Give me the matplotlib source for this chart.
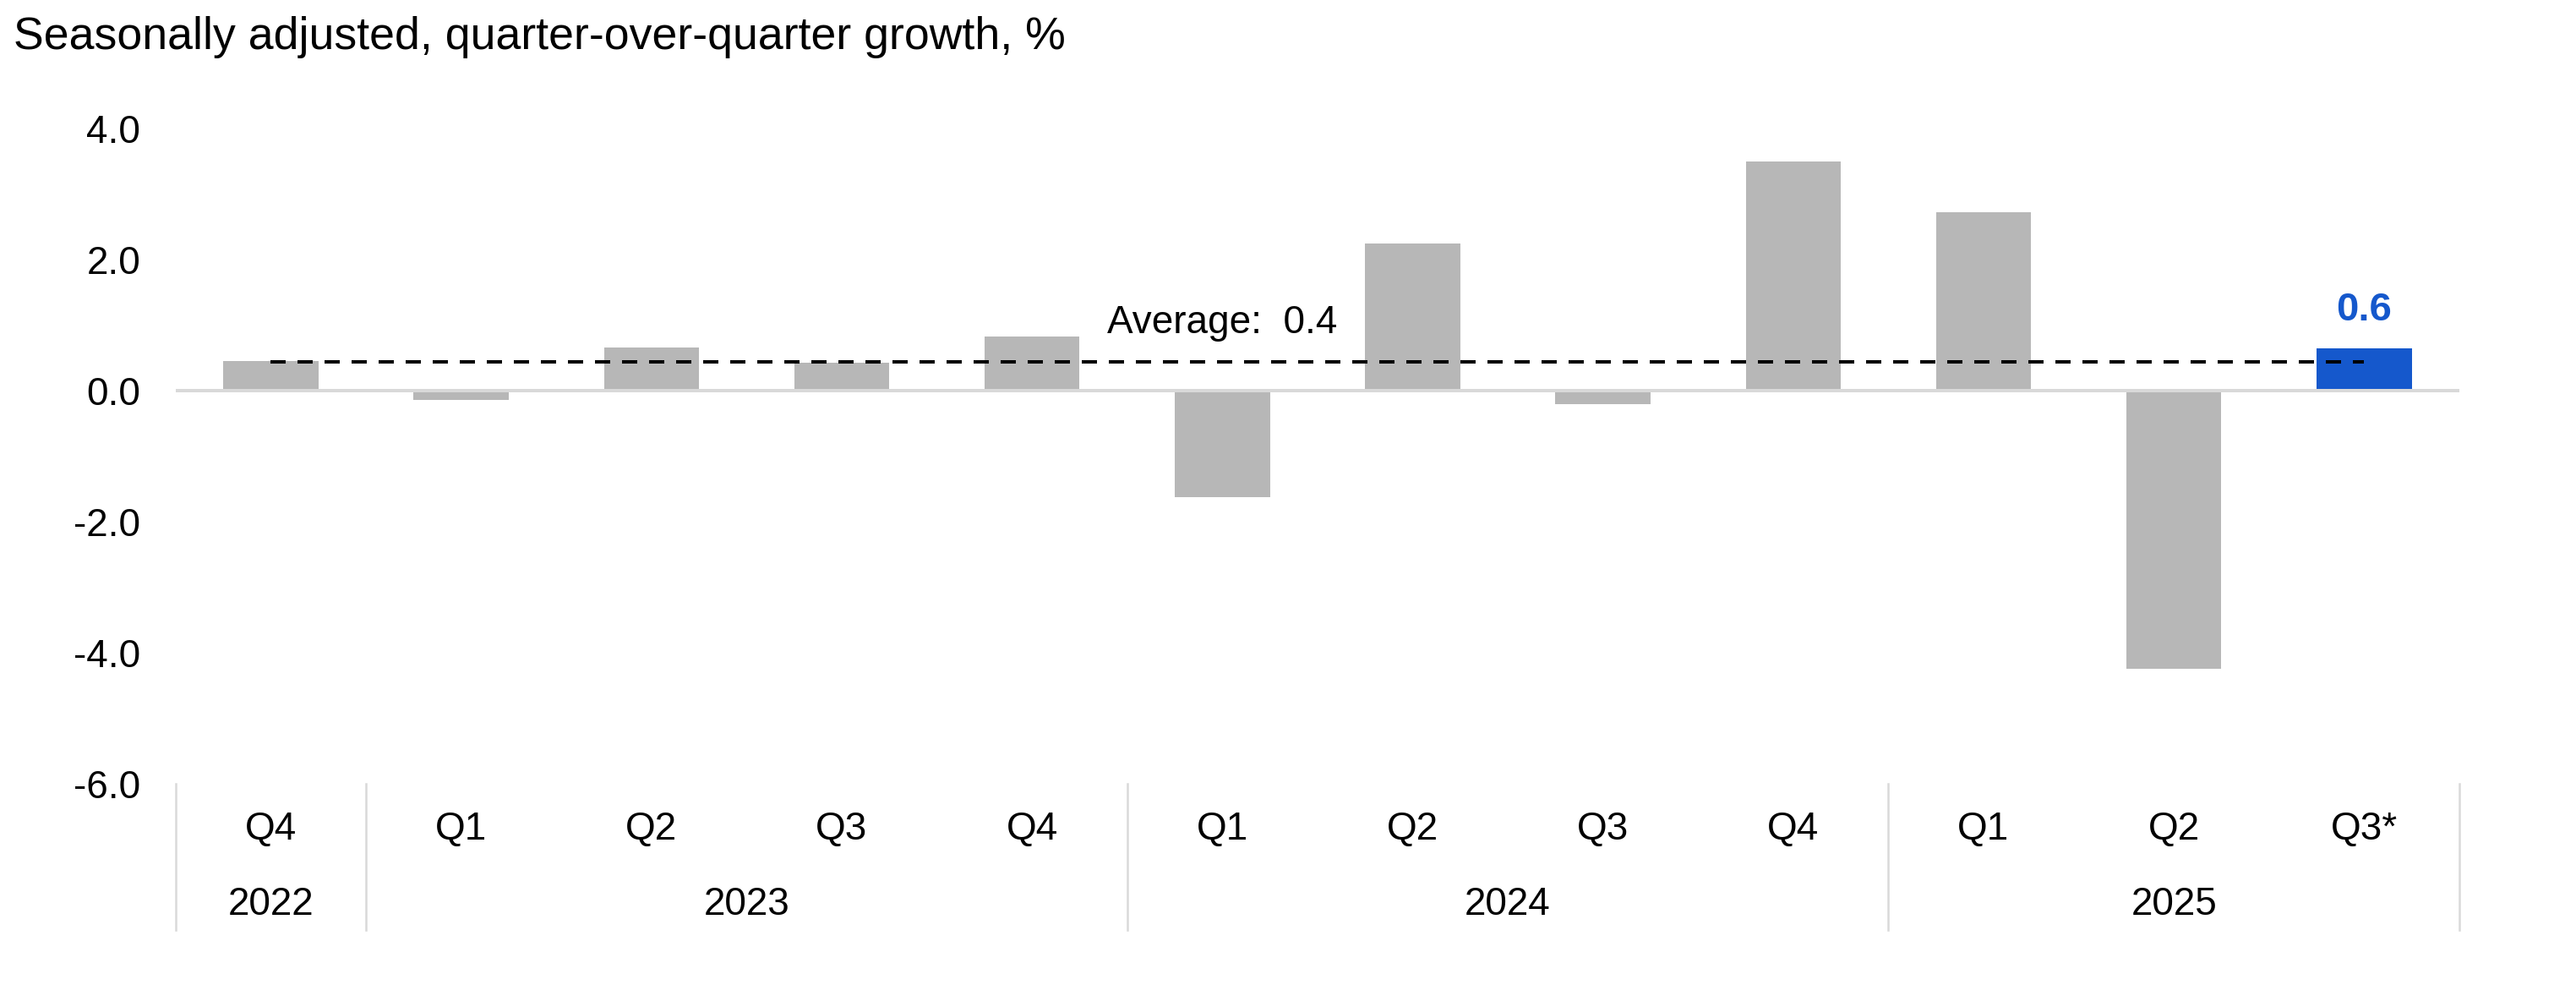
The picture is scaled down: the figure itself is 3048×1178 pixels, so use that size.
import matplotlib
matplotlib.use("Agg")
from matplotlib import pyplot as plt

# data
quarters = ["Q4", "Q1", "Q2", "Q3", "Q4", "Q1", "Q2", "Q3", "Q4", "Q1", "Q2", "Q3*"]
growth = [0.45, -0.14, 0.66, 0.43, 0.83, -1.62, 2.25, -0.21, 3.50, 2.72, -4.25, 0.64]
years = ["2022", "2023", "2024", "2025"]
quarters_per_year = [1, 4, 4, 3]
average = 0.44
average_label = "Average:  0.4"
latest_label = "0.6"

GREY = "#B7B7B7"
BLUE = "#1558CC"
LINE = "#D9D9D9"
FS = 16.5

plt.rcParams["font.family"] = ["Liberation Sans", "DejaVu Sans"]

fig = plt.figure(figsize=(15.24, 5.89), dpi=200)
ax = fig.add_axes([0.0682, 0.2131, 0.8865, 0.6579])

x = list(range(len(growth)))
colors = [GREY] * (len(growth) - 1) + [BLUE]
ax.bar(x, growth, width=0.5, color=colors, zorder=2)

# zero line
ax.axhline(0, color=LINE, lw=1.44, zorder=3)

# average dashed line
ax.plot([x[0], x[-1]], [average, average], color="black", lw=1.44,
        linestyle=(0, (4.5, 3.5)), zorder=4)
ax.text(5, 0.88, average_label, ha="center", va="baseline", fontsize=FS)

# label for the latest bar
ax.annotate(latest_label, (x[-1], growth[-1]), xytext=(0, 8.5),
            textcoords="offset points", ha="center", va="bottom",
            fontsize=FS + 0.5, fontweight="bold", color=BLUE)

ax.set_xlim(-0.5, len(growth) - 0.5)
ax.set_ylim(-6, 4)
ax.set_yticks([-6, -4, -2, 0, 2, 4])
ax.set_yticklabels(["{:.1f}".format(v) for v in [-6, -4, -2, 0, 2, 4]],
                   fontsize=FS)
ax.tick_params(axis="y", length=0, pad=15)
ax.set_xticks([])
for side in ["top", "right", "bottom", "left"]:
    ax.spines[side].set_visible(False)

# two-level category axis
trans = ax.get_xaxis_transform()
for i, q in enumerate(quarters):
    ax.text(i, -0.0697, q, transform=trans, ha="center", va="center",
            fontsize=FS, clip_on=False)

start = -0.5
bounds = [start]
for yr, n in zip(years, quarters_per_year):
    ax.text(start + n / 2, -0.1845, yr, transform=trans, ha="center",
            va="center", fontsize=FS, clip_on=False)
    start += n
    bounds.append(start)
for b in bounds:
    ax.plot([b, b], [0, -0.223], transform=trans, color=LINE, lw=0.9,
            clip_on=False)

fig.text(16 / 3048, 1 - 58 / 1178, "Seasonally adjusted, quarter-over-quarter growth, %",
         ha="left", va="baseline", fontsize=19.3)

fig.savefig("out.png", dpi=200)
